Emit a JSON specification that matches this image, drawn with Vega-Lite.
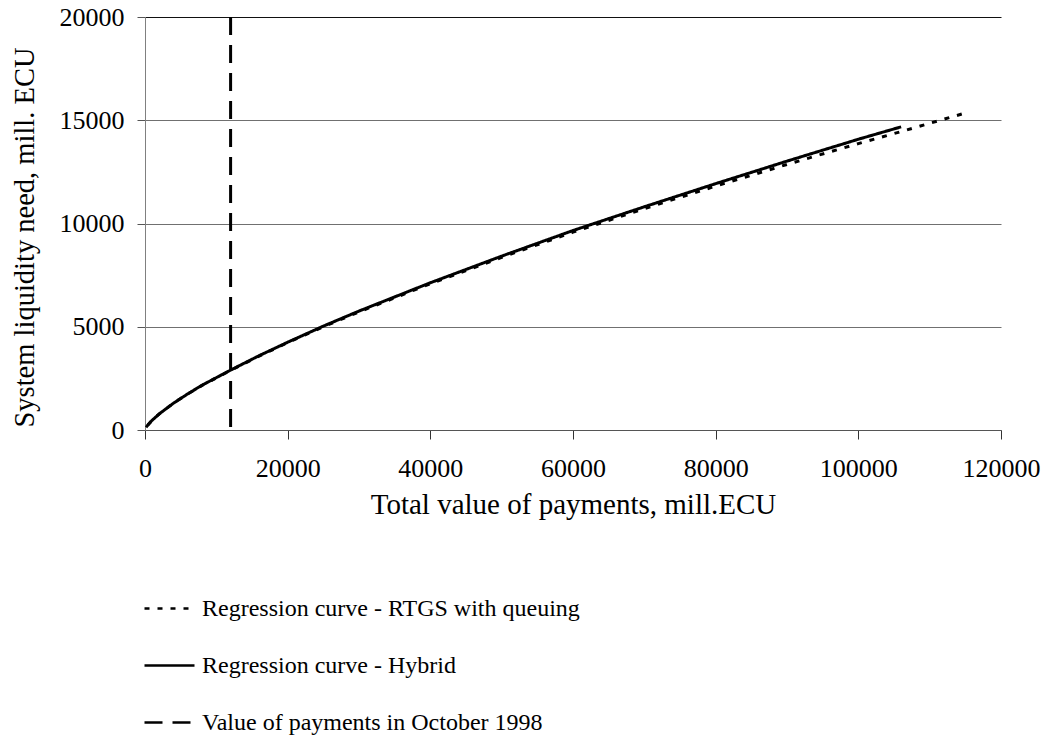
{
  "$schema": "https://vega.github.io/schema/vega-lite/v6.json",
  "autosize": "none",
  "width": 856,
  "height": 413,
  "padding": {"left": 145, "top": 17, "right": 45, "bottom": 319},
  "background": "white",
  "config": {
    "font": "'Liberation Serif', 'Times New Roman', serif",
    "axis": {"labelFont": "'Liberation Serif', 'Times New Roman', serif", "titleFont": "'Liberation Serif', 'Times New Roman', serif"},
    "legend": {"labelFont": "'Liberation Serif', 'Times New Roman', serif"},
    "view": {"stroke": null}
  },
  "data": {
    "values": [
      {"x": 150, "y": 130, "series": "Regression curve - RTGS with queuing"},
      {"x": 500, "y": 280, "series": "Regression curve - RTGS with queuing"},
      {"x": 1000, "y": 470, "series": "Regression curve - RTGS with queuing"},
      {"x": 2000, "y": 780, "series": "Regression curve - RTGS with queuing"},
      {"x": 4000, "y": 1300, "series": "Regression curve - RTGS with queuing"},
      {"x": 6000, "y": 1750, "series": "Regression curve - RTGS with queuing"},
      {"x": 8000, "y": 2160, "series": "Regression curve - RTGS with queuing"},
      {"x": 12000, "y": 2890, "series": "Regression curve - RTGS with queuing"},
      {"x": 16000, "y": 3580, "series": "Regression curve - RTGS with queuing"},
      {"x": 20000, "y": 4230, "series": "Regression curve - RTGS with queuing"},
      {"x": 25000, "y": 5000, "series": "Regression curve - RTGS with queuing"},
      {"x": 30000, "y": 5720, "series": "Regression curve - RTGS with queuing"},
      {"x": 40000, "y": 7080, "series": "Regression curve - RTGS with queuing"},
      {"x": 50000, "y": 8360, "series": "Regression curve - RTGS with queuing"},
      {"x": 60000, "y": 9580, "series": "Regression curve - RTGS with queuing"},
      {"x": 70000, "y": 10720, "series": "Regression curve - RTGS with queuing"},
      {"x": 80000, "y": 11810, "series": "Regression curve - RTGS with queuing"},
      {"x": 90000, "y": 12860, "series": "Regression curve - RTGS with queuing"},
      {"x": 100000, "y": 13870, "series": "Regression curve - RTGS with queuing"},
      {"x": 106800, "y": 14530, "series": "Regression curve - RTGS with queuing"},
      {"x": 110000, "y": 14850, "series": "Regression curve - RTGS with queuing"},
      {"x": 114500, "y": 15300, "series": "Regression curve - RTGS with queuing"},
      {"x": 150, "y": 130, "series": "Regression curve - Hybrid"},
      {"x": 500, "y": 280, "series": "Regression curve - Hybrid"},
      {"x": 1000, "y": 470, "series": "Regression curve - Hybrid"},
      {"x": 2000, "y": 780, "series": "Regression curve - Hybrid"},
      {"x": 4000, "y": 1300, "series": "Regression curve - Hybrid"},
      {"x": 6000, "y": 1750, "series": "Regression curve - Hybrid"},
      {"x": 8000, "y": 2170, "series": "Regression curve - Hybrid"},
      {"x": 12000, "y": 2900, "series": "Regression curve - Hybrid"},
      {"x": 16000, "y": 3600, "series": "Regression curve - Hybrid"},
      {"x": 20000, "y": 4250, "series": "Regression curve - Hybrid"},
      {"x": 25000, "y": 5030, "series": "Regression curve - Hybrid"},
      {"x": 30000, "y": 5760, "series": "Regression curve - Hybrid"},
      {"x": 40000, "y": 7130, "series": "Regression curve - Hybrid"},
      {"x": 50000, "y": 8420, "series": "Regression curve - Hybrid"},
      {"x": 60000, "y": 9660, "series": "Regression curve - Hybrid"},
      {"x": 70000, "y": 10810, "series": "Regression curve - Hybrid"},
      {"x": 80000, "y": 11930, "series": "Regression curve - Hybrid"},
      {"x": 90000, "y": 13020, "series": "Regression curve - Hybrid"},
      {"x": 100000, "y": 14080, "series": "Regression curve - Hybrid"},
      {"x": 106000, "y": 14680, "series": "Regression curve - Hybrid"},
      {"x": 12000, "y": 0, "series": "Value of payments in October 1998"},
      {"x": 12000, "y": 20000, "series": "Value of payments in October 1998"}
    ]
  },
  "mark": {"type": "line", "color": "black", "strokeWidth": 3, "clip": true},
  "encoding": {
    "order": {"field": "y", "type": "quantitative", "sort": "descending"},
    "x": {
      "field": "x", "type": "quantitative",
      "scale": {"domain": [0, 120000], "nice": false},
      "axis": {
        "title": "Total value of payments, mill.ECU",
        "values": [0, 20000, 40000, 60000, 80000, 100000, 120000],
        "format": "d",
        "grid": false,
        "domainColor": "#555555",
        "domainWidth": 1,
        "tickColor": "#333333",
        "tickSize": 9,
        "labelFontSize": 26,
        "labelColor": "black",
        "labelPadding": 16,
        "labelFlush": false,
        "labelOverlap": false,
        "titleFontSize": 29,
        "titleFontWeight": "normal",
        "titleColor": "black",
        "titlePadding": 9
      }
    },
    "y": {
      "field": "y", "type": "quantitative",
      "scale": {"domain": [0, 20000], "nice": false},
      "axis": {
        "title": "System liquidity need, mill. ECU",
        "values": [0, 5000, 10000, 15000, 20000],
        "format": "d",
        "grid": true,
        "gridColor": {"condition": {"test": "datum.value === 20000", "value": "#111111"}, "value": "#707070"},
        "gridWidth": 1,
        "domainColor": "#808080",
        "tickColor": "#555555",
        "tickSize": 8,
        "labelFontSize": 26,
        "labelColor": "black",
        "labelPadding": 13,
        "labelFlush": false,
        "titleFontSize": 28.5,
        "titleFontWeight": "normal",
        "titleColor": "black",
        "titleX": -112,
        "titleY": 220,
        "titleAlign": "center",
        "titleBaseline": "alphabetic",
        "titleAngle": 270
      }
    },
    "strokeDash": {
      "field": "series", "type": "nominal",
      "scale": {
        "domain": ["Regression curve - RTGS with queuing", "Regression curve - Hybrid", "Value of payments in October 1998"],
        "range": [[5, 8], [1, 0], [18, 10]]
      },
      "legend": {
        "orient": "none",
        "legendX": -2,
        "legendY": 565,
        "title": null,
        "symbolType": "stroke",
        "symbolSize": 2500,
        "symbolStrokeColor": "black",
        "symbolStrokeWidth": 2.5,
        "labelFontSize": 24,
        "labelColor": "black",
        "labelOffset": 6,
        "rowPadding": 18,
        "labelLimit": 600
      }
    }
  }
}
